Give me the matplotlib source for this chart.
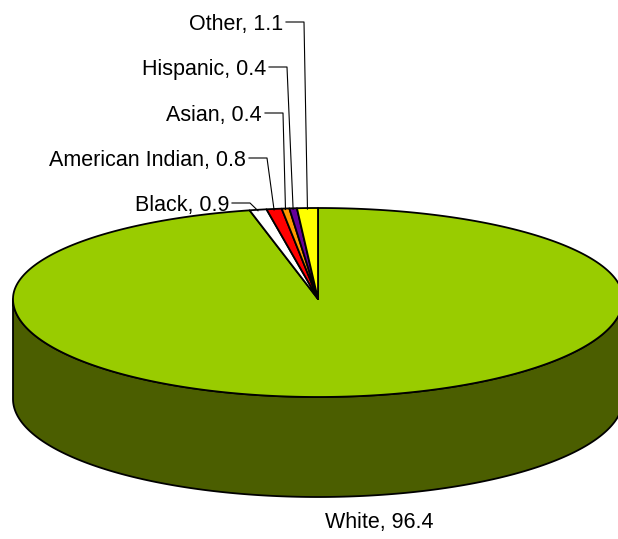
import numpy as np
import matplotlib
matplotlib.use("Agg")
import matplotlib.pyplot as plt
from matplotlib.patches import Polygon

categories = ["White", "Black", "American Indian", "Asian", "Hispanic", "Other"]
values = [96.4, 0.9, 0.8, 0.4, 0.4, 1.1]
colors = ["#99CC00", "#FFFFFF", "#FF0000", "#FF9900", "#660099", "#FFFF00"]
side_color = "#4B5E00"

W, H = 618, 539
fig = plt.figure(figsize=(W / 100, H / 100), dpi=100)
ax = fig.add_axes([0, 0, 1, 1])
ax.set_xlim(0, W)
ax.set_ylim(H, 0)
ax.axis("off")

cx, cy = 318, 299
rx = 305
ry_back, ry_front = 91, 98
depth = 100


def pt(theta_deg, dy=0.0):
    t = np.radians(theta_deg)
    c = np.cos(t)
    ry = ry_back if c >= 0 else ry_front
    return cx + rx * np.sin(t), cy - ry * c + dy


# side (front half)
ts = np.linspace(90, 270, 200)
top = [pt(t) for t in ts]
bot = [pt(t, depth) for t in ts[::-1]]
ax.add_patch(Polygon(top + bot, closed=True, facecolor=side_color,
                     edgecolor="black", lw=1.3, joinstyle="round"))

# top face slices (clockwise from 12 o'clock)
total = sum(values)
start = 0.0
mids = []
for v, col in zip(values, colors):
    span = 360.0 * v / total
    ts = np.linspace(start, start + span, max(3, int(span * 2)))
    poly = [(cx, cy)] + [pt(t) for t in ts]
    ax.add_patch(Polygon(poly, closed=True, facecolor=col,
                         edgecolor="black", lw=1.3, joinstyle="round"))
    mids.append(start + span / 2)
    start += span

fs = 15.5
font = "Liberation Sans"
half_cap = 0.729 * fs * 100 / 72 / 2

# White label
ax.text(379, 520 + half_cap, f"{categories[0]}, {values[0]}", ha="center",
        va="baseline", fontsize=fs, family=font)

# leader-line labels for small slices
label_y = {"Black": 203, "American Indian": 158, "Asian": 113, "Hispanic": 67, "Other": 22}
elbow_x = {"Black": 250, "American Indian": 267, "Asian": 283, "Hispanic": 287, "Other": 304}
for i in range(1, len(categories)):
    name = categories[i]
    y = label_y[name]
    ex = elbow_x[name]
    px, py = pt(mids[i])
    ax.text(ex - 21, y + half_cap, f"{name}, {values[i]}", ha="right",
            va="baseline", fontsize=fs, family=font)
    ax.plot([ex - 18, ex, px], [y, y, py + 1], color="black", lw=0.8)

fig.savefig("out.png", dpi=100)
